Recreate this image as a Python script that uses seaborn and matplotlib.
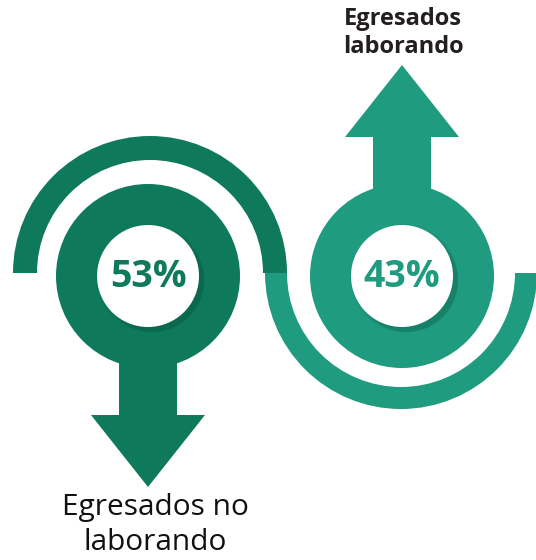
import matplotlib
matplotlib.use("Agg")
import matplotlib.pyplot as plt
from matplotlib.patches import Circle, Wedge, Polygon
import seaborn as sns

# data
labels = ["Egresados no\nlaborando", "Egresados\nlaborando"]
values = [53, 43]
colors = ["#0E7A5B", "#1F9B7F"]

sns.set_theme(style="white")
plt.rcParams["font.family"] = ["Open Sans", "DejaVu Sans"]

fig = plt.figure(figsize=(5.36, 5.6), dpi=100)
ax = fig.add_axes([0, 0, 1, 1])
ax.set_xlim(0, 536)
ax.set_ylim(560, 0)
ax.axis("off")

# ring centres (pixels), arrow direction: down for first, up for second
centers = [(148, 276), (402, 276)]
arcs = [((150, 273), 137, 180, 360, 24), ((401, 273), 136, 0, 180, 22)]
direction = [1, -1]

for i, (cx, cy) in enumerate(centers):
    c = colors[i]
    ctr, r, t1, t2, w = arcs[i]
    ax.add_patch(Wedge(ctr, r, t1, t2, width=w, color=c, lw=0))
    d = direction[i]
    # arrow shaft + head
    sb = cy + d * 70
    hb = cy + d * 139
    tip = cy + d * 211
    ax.add_patch(Polygon([(cx - 29, sb), (cx + 29, sb), (cx + 29, hb), (cx + 57, hb),
                          (cx, tip), (cx - 57, hb), (cx - 29, hb)], closed=True, color=c, lw=0))
    ax.add_patch(Circle((cx, cy), 92, color=c, lw=0))
    # soft shadow under the white disc
    for k, a in enumerate([0.04, 0.05, 0.06, 0.07, 0.08]):
        ax.add_patch(Circle((cx + 2 + k, cy + 2 + k), 54 - k, color="#05402f", alpha=a, lw=0))
    ax.add_patch(Circle((cx, cy), 51, color="white", lw=0))
    ax.text(cx, cy + 1, f"{values[i]}%", ha="center", va="center",
            fontsize=27, fontweight="bold", color=c)

ax.text(403, 33, labels[1], ha="center", va="center", fontsize=17,
        fontweight="bold", color="#231f20", linespacing=1.2)
ax.text(155, 525, labels[0], ha="center", va="center", fontsize=21.5,
        color="#111111", linespacing=1.25)

fig.savefig("out.png", dpi=100)
